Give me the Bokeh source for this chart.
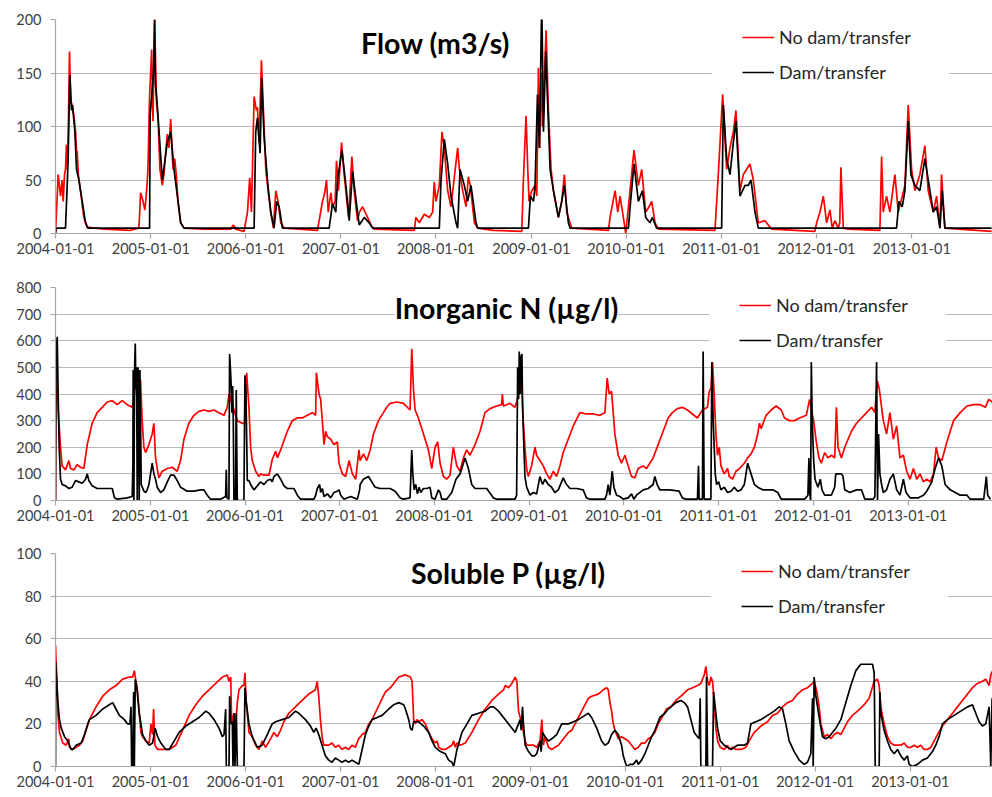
import numpy as np
from bokeh.plotting import figure
from bokeh.layouts import column
from bokeh.models import (Range1d, FixedTicker, SingleIntervalTicker, DatetimeTickFormatter,
                          Label, BoxAnnotation)
from bokeh.embed import file_html
from bokeh.resources import INLINE

# ---------------- data (time as decimal year, value) ----------------
SERIES_NAMES = ["No dam/transfer", "Dam/transfer"]
TICK_YEARS = [2004, 2005, 2006, 2007, 2008, 2009, 2010, 2011, 2012, 2013]
TITLES = ["Flow (m3/s)", "Inorganic N (\u00b5g/l)", "Soluble P (\u00b5g/l)"]

FLOW_NODAM = [
    (2004.000, 0), (2004.028, 55), (2004.053, 35), (2004.070, 50), (2004.081, 30), (2004.095, 55),
    (2004.105, 60), (2004.115, 83), (2004.123, 60), (2004.135, 100), (2004.147, 170), (2004.160, 125),
    (2004.175, 120), (2004.193, 110), (2004.211, 95), (2004.222, 75), (2004.228, 77), (2004.240, 55),
    (2004.270, 35), (2004.298, 15), (2004.333, 6), (2004.509, 4), (2004.789, 3), (2004.877, 5),
    (2004.895, 38), (2004.915, 32), (2004.940, 22), (2004.958, 40), (2004.972, 60), (2004.989, 128),
    (2005.011, 172), (2005.025, 105), (2005.042, 200), (2005.063, 120), (2005.077, 110), (2005.098, 60),
    (2005.123, 45), (2005.140, 55), (2005.158, 75), (2005.175, 93), (2005.193, 80), (2005.211, 107),
    (2005.235, 60), (2005.253, 70), (2005.270, 55), (2005.288, 30), (2005.316, 10), (2005.351, 5),
    (2005.561, 4), (2005.842, 4), (2005.870, 8), (2005.895, 4), (2005.982, 2), (2006.018, 20),
    (2006.042, 52), (2006.060, 20), (2006.088, 128), (2006.112, 115), (2006.123, 118), (2006.140, 85),
    (2006.165, 162), (2006.186, 115), (2006.211, 60), (2006.235, 40), (2006.263, 20), (2006.291, 5),
    (2006.316, 40), (2006.340, 30), (2006.368, 10), (2006.404, 5), (2006.754, 3), (2006.807, 30),
    (2006.830, 38), (2006.849, 50), (2006.867, 20), (2006.895, 38), (2006.912, 25), (2006.940, 30),
    (2006.954, 68), (2006.975, 40), (2007.007, 85), (2007.035, 55), (2007.081, 15), (2007.116, 72),
    (2007.140, 40), (2007.175, 12), (2007.195, 20), (2007.228, 25), (2007.281, 15), (2007.316, 8),
    (2007.351, 4), (2007.772, 3), (2007.789, 15), (2007.825, 10), (2007.877, 18), (2007.930, 15),
    (2007.965, 20), (2007.982, 48), (2008.000, 30), (2008.035, 45), (2008.063, 95), (2008.088, 80),
    (2008.123, 40), (2008.158, 25), (2008.228, 80), (2008.246, 60), (2008.281, 40), (2008.316, 25),
    (2008.340, 53), (2008.361, 45), (2008.404, 10), (2008.439, 5), (2008.600, 3), (2008.902, 2),
    (2008.919, 50), (2008.947, 110), (2008.965, 60), (2008.979, 30), (2009.007, 40), (2009.042, 45),
    (2009.060, 35), (2009.077, 155), (2009.088, 80), (2009.105, 150), (2009.119, 100), (2009.158, 190),
    (2009.182, 115), (2009.210, 60), (2009.235, 40), (2009.287, 15), (2009.322, 30), (2009.350, 55),
    (2009.375, 20), (2009.427, 5), (2009.813, 3), (2009.830, 15), (2009.883, 40), (2009.911, 20),
    (2009.935, 35), (2009.970, 15), (2009.995, 0), (2010.040, 40), (2010.082, 78), (2010.128, 45),
    (2010.163, 60), (2010.205, 20), (2010.240, 25), (2010.268, 30), (2010.303, 10), (2010.338, 4),
    (2010.933, 3), (2010.968, 55), (2011.014, 130), (2011.056, 60), (2011.091, 80), (2011.126, 95),
    (2011.154, 115), (2011.196, 40), (2011.231, 55), (2011.266, 60), (2011.301, 65), (2011.336, 50),
    (2011.389, 10), (2011.459, 12), (2011.529, 4), (2011.984, 2), (2012.002, 10), (2012.037, 20),
    (2012.072, 35), (2012.107, 10), (2012.142, 22), (2012.166, 5), (2012.194, 12), (2012.229, 5),
    (2012.245, 10), (2012.257, 62), (2012.282, 5), (2012.334, 4), (2012.667, 3), (2012.685, 72),
    (2012.702, 20), (2012.737, 35), (2012.772, 20), (2012.825, 55), (2012.860, 20), (2012.930, 45),
    (2012.965, 120), (2013.000, 60), (2013.035, 40), (2013.087, 55), (2013.140, 82), (2013.175, 40),
    (2013.228, 20), (2013.263, 35), (2013.298, 5), (2013.315, 55), (2013.350, 5), (2013.841, 2),
]

FLOW_DAM = [
    (2004.000, 0), (2004.007, 5), (2004.105, 5), (2004.123, 45), (2004.133, 70), (2004.151, 148),
    (2004.168, 115), (2004.179, 120), (2004.204, 95), (2004.221, 60), (2004.246, 50), (2004.281, 30),
    (2004.316, 10), (2004.340, 5), (2004.989, 5), (2004.995, 110), (2005.030, 150), (2005.042, 200),
    (2005.050, 140), (2005.070, 120), (2005.123, 50), (2005.175, 85), (2005.211, 95), (2005.246, 60),
    (2005.316, 10), (2005.351, 5), (2006.088, 5), (2006.105, 95), (2006.123, 108), (2006.151, 75),
    (2006.168, 145), (2006.193, 90), (2006.228, 50), (2006.263, 20), (2006.298, 5), (2006.326, 30),
    (2006.351, 25), (2006.386, 5), (2006.877, 5), (2006.912, 28), (2006.947, 20), (2006.965, 50),
    (2007.011, 78), (2007.053, 45), (2007.088, 12), (2007.123, 58), (2007.175, 20), (2007.193, 8),
    (2007.246, 15), (2007.298, 10), (2007.333, 5), (2008.035, 5), (2008.053, 50), (2008.088, 88),
    (2008.123, 65), (2008.158, 35), (2008.211, 10), (2008.228, 5), (2008.253, 60), (2008.298, 45),
    (2008.333, 30), (2008.368, 45), (2008.421, 10), (2008.439, 5), (2008.972, 5), (2008.993, 35),
    (2009.025, 30), (2009.042, 45), (2009.067, 130), (2009.088, 80), (2009.112, 220), (2009.130, 95),
    (2009.154, 170), (2009.200, 60), (2009.235, 40), (2009.287, 15), (2009.322, 30), (2009.350, 45),
    (2009.392, 10), (2009.410, 5), (2010.023, 5), (2010.046, 30), (2010.082, 65), (2010.128, 30),
    (2010.170, 40), (2010.205, 15), (2010.250, 10), (2010.275, 15), (2010.320, 5), (2011.003, 5),
    (2011.021, 120), (2011.056, 70), (2011.091, 55), (2011.126, 85), (2011.154, 105), (2011.196, 35),
    (2011.249, 45), (2011.284, 45), (2011.312, 50), (2011.354, 20), (2011.389, 5), (2012.842, 5),
    (2012.867, 30), (2012.902, 25), (2012.930, 40), (2012.965, 105), (2012.993, 55), (2013.035, 45),
    (2013.087, 40), (2013.140, 70), (2013.193, 40), (2013.228, 20), (2013.263, 25), (2013.298, 5),
    (2013.322, 40), (2013.350, 5), (2013.841, 5),
]

N_NODAM = [
    (2004.000, 0), (2004.003, 490), (2004.035, 300), (2004.053, 200), (2004.070, 130), (2004.106, 115),
    (2004.141, 150), (2004.158, 120), (2004.194, 115), (2004.229, 135), (2004.264, 125), (2004.299, 120),
    (2004.335, 210), (2004.387, 290), (2004.440, 330), (2004.493, 350), (2004.546, 370), (2004.599, 375),
    (2004.651, 360), (2004.704, 375), (2004.757, 360), (2004.810, 350), (2004.827, 380), (2004.845, 440),
    (2004.870, 460), (2004.898, 450), (2004.915, 300), (2004.933, 200), (2004.951, 180), (2004.986, 210),
    (2005.021, 250), (2005.039, 290), (2005.056, 160), (2005.074, 120), (2005.092, 85), (2005.127, 110),
    (2005.180, 120), (2005.232, 125), (2005.285, 110), (2005.320, 150), (2005.356, 230), (2005.408, 290),
    (2005.461, 320), (2005.514, 335), (2005.567, 340), (2005.620, 335), (2005.673, 340), (2005.725, 330),
    (2005.778, 320), (2005.813, 350), (2005.831, 400), (2005.849, 380), (2005.919, 300), (2005.972, 290),
    (2005.996, 290), (2006.018, 480), (2006.042, 350), (2006.060, 200), (2006.077, 150), (2006.113, 110),
    (2006.148, 90), (2006.165, 100), (2006.201, 95), (2006.254, 95), (2006.289, 155), (2006.324, 185),
    (2006.342, 160), (2006.377, 190), (2006.447, 260), (2006.500, 300), (2006.553, 310), (2006.606, 310),
    (2006.658, 320), (2006.711, 330), (2006.746, 320), (2006.754, 480), (2006.782, 400), (2006.799, 380),
    (2006.817, 300), (2006.835, 210), (2006.852, 260), (2006.870, 240), (2006.905, 230), (2006.940, 210),
    (2006.975, 220), (2006.993, 140), (2007.028, 100), (2007.063, 90), (2007.099, 150), (2007.134, 100),
    (2007.169, 80), (2007.204, 190), (2007.216, 150), (2007.251, 175), (2007.286, 150), (2007.322, 190),
    (2007.357, 250), (2007.409, 300), (2007.462, 330), (2007.497, 350), (2007.533, 365), (2007.603, 370),
    (2007.673, 365), (2007.743, 340), (2007.761, 570), (2007.779, 420), (2007.796, 340), (2007.831, 310),
    (2007.866, 270), (2007.902, 230), (2007.937, 190), (2007.972, 120), (2008.007, 200), (2008.035, 220),
    (2008.060, 140), (2008.095, 90), (2008.130, 80), (2008.165, 95), (2008.200, 200), (2008.236, 130),
    (2008.271, 110), (2008.306, 160), (2008.341, 190), (2008.376, 170), (2008.429, 210), (2008.482, 260),
    (2008.534, 330), (2008.587, 345), (2008.657, 355), (2008.710, 360), (2008.717, 400), (2008.728, 355),
    (2008.798, 365), (2008.851, 350), (2008.868, 370), (2008.903, 420), (2008.921, 440), (2008.938, 300),
    (2008.956, 200), (2008.974, 120), (2008.991, 90), (2009.026, 130), (2009.062, 200), (2009.079, 170),
    (2009.114, 150), (2009.149, 130), (2009.185, 100), (2009.220, 80), (2009.255, 110), (2009.290, 90),
    (2009.325, 130), (2009.360, 180), (2009.413, 230), (2009.466, 280), (2009.536, 330), (2009.606, 325),
    (2009.677, 325), (2009.747, 320), (2009.800, 330), (2009.824, 460), (2009.845, 400), (2009.870, 410),
    (2009.888, 330), (2009.905, 250), (2009.940, 170), (2009.975, 140), (2010.011, 170), (2010.046, 130),
    (2010.081, 90), (2010.116, 85), (2010.151, 120), (2010.204, 130), (2010.239, 120), (2010.274, 140),
    (2010.309, 160), (2010.362, 210), (2010.415, 260), (2010.468, 310), (2010.512, 330), (2010.565, 345),
    (2010.618, 350), (2010.671, 340), (2010.724, 325), (2010.777, 310), (2010.830, 340), (2010.883, 350),
    (2010.901, 410), (2010.919, 420), (2010.936, 520), (2010.954, 400), (2010.972, 250), (2010.989, 170),
    (2011.007, 200), (2011.025, 130), (2011.060, 100), (2011.095, 120), (2011.113, 90), (2011.148, 80),
    (2011.184, 110), (2011.219, 120), (2011.272, 140), (2011.307, 160), (2011.343, 175), (2011.378, 200),
    (2011.413, 250), (2011.431, 290), (2011.449, 270), (2011.502, 320), (2011.555, 340), (2011.608, 355),
    (2011.661, 340), (2011.696, 310), (2011.749, 300), (2011.802, 300), (2011.855, 310), (2011.926, 320),
    (2011.961, 380), (2011.979, 340), (2012.004, 300), (2012.032, 220), (2012.060, 160), (2012.085, 140),
    (2012.120, 180), (2012.155, 160), (2012.191, 170), (2012.226, 160), (2012.244, 350), (2012.261, 200),
    (2012.297, 160), (2012.332, 200), (2012.367, 230), (2012.403, 260), (2012.456, 290), (2012.509, 310),
    (2012.562, 330), (2012.615, 350), (2012.650, 330), (2012.675, 450), (2012.696, 420), (2012.739, 300),
    (2012.774, 250), (2012.809, 330), (2012.845, 230), (2012.880, 280), (2012.915, 160), (2012.951, 170),
    (2012.986, 110), (2013.021, 80), (2013.057, 120), (2013.092, 80), (2013.127, 100), (2013.163, 70),
    (2013.198, 80), (2013.233, 70), (2013.269, 100), (2013.297, 200), (2013.322, 160), (2013.357, 150),
    (2013.410, 220), (2013.445, 260), (2013.481, 300), (2013.551, 330), (2013.622, 355), (2013.693, 360),
    (2013.763, 360), (2013.816, 350), (2013.852, 380), (2013.890, 370),
]

N_DAM = [
    (2004.000, 0), (2004.007, 560), (2004.018, 615), (2004.028, 400), (2004.039, 200), (2004.053, 80),
    (2004.070, 60), (2004.106, 55), (2004.141, 45), (2004.176, 50), (2004.211, 75), (2004.246, 70),
    (2004.282, 65), (2004.317, 80), (2004.335, 100), (2004.352, 75), (2004.387, 55), (2004.440, 45),
    (2004.511, 45), (2004.599, 45), (2004.623, 10), (2004.651, 5), (2004.757, 10), (2004.810, 15),
    (2004.817, 135), (2004.820, 490), (2004.828, 0), (2004.835, 490), (2004.842, 590), (2004.849, 420),
    (2004.856, 500), (2004.863, 0), (2004.870, 500), (2004.877, 480), (2004.884, 0), (2004.891, 490),
    (2004.898, 300), (2004.905, 60), (2004.933, 35), (2004.951, 30), (2004.968, 40), (2004.986, 60),
    (2005.021, 140), (2005.039, 100), (2005.056, 80), (2005.074, 50), (2005.109, 30), (2005.144, 40),
    (2005.180, 70), (2005.215, 95), (2005.250, 95), (2005.285, 75), (2005.320, 50), (2005.391, 35),
    (2005.461, 35), (2005.532, 40), (2005.567, 40), (2005.602, 20), (2005.637, 5), (2005.743, 5),
    (2005.796, 15), (2005.803, 115), (2005.810, 10), (2005.831, 5), (2005.838, 550), (2005.849, 480),
    (2005.856, 420), (2005.863, 330), (2005.870, 430), (2005.877, 300), (2005.884, 0), (2005.901, 0),
    (2005.908, 415), (2005.919, 0), (2005.989, 0), (2006.000, 470), (2006.011, 400), (2006.025, 75),
    (2006.042, 75), (2006.060, 60), (2006.095, 40), (2006.130, 55), (2006.165, 70), (2006.201, 60),
    (2006.236, 75), (2006.271, 80), (2006.289, 70), (2006.306, 90), (2006.342, 100), (2006.377, 80),
    (2006.412, 55), (2006.447, 45), (2006.518, 45), (2006.553, 20), (2006.588, 5), (2006.729, 5),
    (2006.747, 20), (2006.764, 45), (2006.789, 60), (2006.799, 30), (2006.817, 45), (2006.835, 15),
    (2006.870, 25), (2006.905, 10), (2006.940, 30), (2006.975, 35), (2006.993, 40), (2007.011, 20),
    (2007.046, 5), (2007.116, 15), (2007.151, 10), (2007.187, 5), (2007.211, 40), (2007.216, 60),
    (2007.251, 80), (2007.304, 90), (2007.339, 70), (2007.374, 50), (2007.427, 45), (2007.533, 45),
    (2007.585, 35), (2007.638, 10), (2007.673, 5), (2007.743, 10), (2007.761, 190), (2007.772, 100),
    (2007.786, 40), (2007.803, 60), (2007.821, 25), (2007.838, 50), (2007.856, 30), (2007.884, 45),
    (2007.919, 45), (2007.954, 50), (2007.972, 10), (2008.007, 5), (2008.042, 40), (2008.060, 30),
    (2008.077, 5), (2008.130, 5), (2008.183, 30), (2008.228, 80), (2008.271, 100), (2008.323, 160),
    (2008.359, 120), (2008.394, 60), (2008.429, 45), (2008.482, 45), (2008.552, 45), (2008.622, 10),
    (2008.657, 5), (2008.851, 5), (2008.868, 20), (2008.879, 500), (2008.889, 380), (2008.896, 560),
    (2008.907, 400), (2008.914, 540), (2008.924, 550), (2008.931, 350), (2008.946, 190), (2008.956, 90),
    (2008.974, 50), (2009.009, 20), (2009.044, 30), (2009.079, 25), (2009.114, 90), (2009.142, 60),
    (2009.167, 80), (2009.202, 60), (2009.237, 50), (2009.272, 30), (2009.308, 40), (2009.360, 85),
    (2009.395, 60), (2009.431, 45), (2009.501, 45), (2009.571, 40), (2009.606, 10), (2009.641, 5),
    (2009.800, 5), (2009.817, 20), (2009.835, 60), (2009.852, 20), (2009.877, 110), (2009.895, 50),
    (2009.923, 20), (2009.958, 15), (2009.993, 5), (2010.046, 10), (2010.081, 25), (2010.105, 5),
    (2010.134, 20), (2010.204, 40), (2010.257, 45), (2010.309, 60), (2010.327, 90), (2010.352, 60),
    (2010.380, 40), (2010.432, 40), (2010.485, 40), (2010.583, 35), (2010.618, 10), (2010.654, 5),
    (2010.777, 5), (2010.788, 130), (2010.795, 5), (2010.830, 5), (2010.837, 560), (2010.848, 5),
    (2010.919, 5), (2010.929, 520), (2010.943, 300), (2010.954, 200), (2010.965, 100), (2010.979, 60),
    (2011.000, 70), (2011.025, 40), (2011.060, 50), (2011.095, 30), (2011.131, 35), (2011.166, 50),
    (2011.201, 35), (2011.237, 40), (2011.272, 60), (2011.307, 140), (2011.343, 100), (2011.378, 60),
    (2011.413, 50), (2011.466, 40), (2011.572, 40), (2011.625, 30), (2011.661, 5), (2011.908, 5),
    (2011.943, 20), (2011.954, 160), (2011.961, 30), (2011.972, 0), (2011.979, 520), (2011.989, 300),
    (2012.004, 150), (2012.018, 80), (2012.049, 50), (2012.074, 80), (2012.092, 40), (2012.120, 20),
    (2012.191, 20), (2012.226, 50), (2012.237, 100), (2012.297, 100), (2012.314, 90), (2012.332, 40),
    (2012.385, 30), (2012.456, 40), (2012.509, 40), (2012.544, 5), (2012.633, 5), (2012.650, 15),
    (2012.668, 520), (2012.678, 0), (2012.689, 250), (2012.703, 100), (2012.721, 60), (2012.739, 30),
    (2012.774, 40), (2012.809, 80), (2012.845, 100), (2012.880, 40), (2012.915, 20), (2012.951, 80),
    (2012.979, 30), (2013.021, 10), (2013.110, 10), (2013.163, 20), (2013.198, 35), (2013.251, 70),
    (2013.286, 120), (2013.322, 160), (2013.357, 130), (2013.392, 60), (2013.445, 40), (2013.498, 30),
    (2013.551, 20), (2013.622, 20), (2013.657, 5), (2013.799, 5), (2013.827, 90), (2013.841, 20),
    (2013.869, 5),
]

P_NODAM = [
    (2004.000, 57), (2004.014, 40), (2004.025, 25), (2004.042, 16), (2004.077, 11), (2004.112, 10),
    (2004.140, 13), (2004.147, 9), (2004.182, 8), (2004.217, 9), (2004.252, 10), (2004.287, 12),
    (2004.322, 17), (2004.357, 22), (2004.427, 28), (2004.497, 33), (2004.567, 36), (2004.637, 38),
    (2004.707, 41), (2004.777, 42), (2004.812, 42), (2004.830, 45), (2004.847, 40), (2004.865, 35),
    (2004.882, 25), (2004.900, 16), (2004.917, 14), (2004.952, 12), (2004.987, 11), (2005.005, 20),
    (2005.022, 15), (2005.033, 27), (2005.047, 10), (2005.075, 8), (2005.127, 8), (2005.197, 8),
    (2005.232, 9), (2005.267, 10), (2005.337, 17), (2005.407, 24), (2005.477, 29), (2005.547, 33),
    (2005.617, 36), (2005.687, 39), (2005.757, 42), (2005.810, 43), (2005.827, 40), (2005.845, 42),
    (2005.855, 20), (2005.880, 25), (2005.897, 20), (2005.915, 30), (2005.932, 36), (2005.967, 38),
    (2005.985, 38), (2005.995, 44), (2006.009, 30), (2006.020, 25), (2006.037, 16), (2006.072, 14),
    (2006.107, 10), (2006.142, 8), (2006.177, 12), (2006.212, 9), (2006.265, 13), (2006.300, 16),
    (2006.335, 14), (2006.370, 17), (2006.405, 21), (2006.457, 25), (2006.527, 28), (2006.597, 31),
    (2006.667, 34), (2006.702, 35), (2006.737, 36), (2006.755, 40), (2006.772, 33), (2006.790, 22),
    (2006.807, 14), (2006.825, 10), (2006.877, 10), (2006.912, 11), (2006.947, 9), (2006.982, 10),
    (2007.017, 8), (2007.052, 9), (2007.087, 8), (2007.122, 10), (2007.157, 9), (2007.192, 13),
    (2007.212, 14), (2007.229, 15), (2007.264, 16), (2007.299, 20), (2007.334, 22), (2007.387, 27),
    (2007.440, 32), (2007.475, 35), (2007.527, 37), (2007.580, 40), (2007.615, 42), (2007.685, 43),
    (2007.737, 42), (2007.755, 40), (2007.772, 22), (2007.790, 20), (2007.807, 22), (2007.825, 21),
    (2007.860, 22), (2007.895, 20), (2007.930, 16), (2007.965, 13), (2008.000, 11), (2008.018, 12),
    (2008.035, 9), (2008.070, 8), (2008.105, 8), (2008.140, 9), (2008.175, 10), (2008.193, 12),
    (2008.210, 9), (2008.228, 11), (2008.263, 10), (2008.315, 11), (2008.385, 16), (2008.455, 22),
    (2008.525, 27), (2008.595, 31), (2008.665, 34), (2008.718, 36), (2008.736, 38), (2008.771, 37),
    (2008.806, 39), (2008.841, 42), (2008.858, 40), (2008.876, 26), (2008.911, 20), (2008.946, 12),
    (2008.963, 10), (2008.998, 10), (2009.033, 10), (2009.068, 9), (2009.103, 12), (2009.121, 22),
    (2009.138, 10), (2009.156, 14), (2009.191, 9), (2009.226, 8), (2009.261, 9), (2009.296, 10),
    (2009.331, 12), (2009.366, 14), (2009.401, 16), (2009.436, 17), (2009.471, 20), (2009.506, 23),
    (2009.541, 26), (2009.576, 29), (2009.611, 32), (2009.646, 33), (2009.716, 34), (2009.769, 36),
    (2009.804, 37), (2009.821, 36), (2009.839, 30), (2009.856, 26), (2009.874, 20), (2009.891, 17),
    (2009.909, 15), (2009.926, 13), (2009.961, 14), (2009.996, 13), (2010.032, 12), (2010.067, 10),
    (2010.102, 8), (2010.137, 9), (2010.172, 11), (2010.207, 11), (2010.242, 13), (2010.277, 14),
    (2010.312, 16), (2010.347, 20), (2010.399, 24), (2010.434, 27), (2010.481, 28), (2010.533, 31),
    (2010.586, 33), (2010.656, 36), (2010.709, 37), (2010.761, 38), (2010.796, 39), (2010.832, 43),
    (2010.849, 47), (2010.867, 40), (2010.884, 38), (2010.902, 42), (2010.919, 40), (2010.937, 30),
    (2010.954, 18), (2010.972, 12), (2011.000, 9), (2011.042, 8), (2011.077, 10), (2011.095, 8),
    (2011.130, 9), (2011.165, 8), (2011.218, 8), (2011.270, 9), (2011.305, 12), (2011.358, 16),
    (2011.428, 19), (2011.498, 21), (2011.551, 24), (2011.604, 25), (2011.656, 28), (2011.709, 30),
    (2011.761, 31), (2011.814, 34), (2011.867, 36), (2011.919, 37), (2011.972, 39), (2011.989, 40),
    (2012.007, 37), (2012.018, 35), (2012.042, 28), (2012.060, 20), (2012.095, 14), (2012.130, 15),
    (2012.165, 13), (2012.200, 15), (2012.235, 16), (2012.270, 15), (2012.305, 18), (2012.340, 21),
    (2012.393, 24), (2012.446, 26), (2012.516, 29), (2012.568, 32), (2012.621, 40), (2012.656, 41),
    (2012.674, 38), (2012.691, 28), (2012.726, 20), (2012.761, 14), (2012.796, 11), (2012.832, 10),
    (2012.902, 10), (2012.937, 11), (2012.972, 9), (2013.007, 9), (2013.042, 10), (2013.077, 9),
    (2013.112, 10), (2013.147, 8), (2013.182, 8), (2013.218, 9), (2013.253, 12), (2013.288, 15),
    (2013.340, 19), (2013.393, 22), (2013.446, 25), (2013.498, 28), (2013.551, 31), (2013.604, 34),
    (2013.656, 37), (2013.709, 39), (2013.761, 40), (2013.796, 41), (2013.832, 38), (2013.849, 43),
    (2013.870, 45),
]

P_DAM = [
    (2004.000, 0), (2004.0035, 49), (2004.025, 30), (2004.042, 22), (2004.060, 18), (2004.095, 14),
    (2004.130, 12), (2004.165, 8), (2004.182, 8), (2004.217, 10), (2004.270, 11), (2004.305, 15),
    (2004.340, 20), (2004.357, 22), (2004.427, 24), (2004.497, 27), (2004.567, 29), (2004.602, 30),
    (2004.637, 27), (2004.672, 24), (2004.725, 22), (2004.760, 20), (2004.784, 20), (2004.795, 28),
    (2004.802, 0), (2004.812, 0), (2004.823, 35), (2004.830, 0), (2004.840, 41), (2004.854, 38),
    (2004.882, 25), (2004.917, 15), (2004.952, 12), (2004.987, 10), (2005.022, 11), (2005.050, 18),
    (2005.075, 14), (2005.110, 11), (2005.162, 8), (2005.197, 8), (2005.250, 12), (2005.302, 16),
    (2005.372, 19), (2005.442, 21), (2005.512, 23), (2005.582, 26), (2005.617, 25), (2005.670, 22),
    (2005.722, 18), (2005.757, 14), (2005.775, 15), (2005.792, 27), (2005.799, 0), (2005.827, 0),
    (2005.834, 33), (2005.845, 20), (2005.862, 21), (2005.869, 0), (2005.880, 25), (2005.890, 0),
    (2005.904, 25), (2005.915, 0), (2005.985, 0), (2005.995, 37), (2006.009, 30), (2006.037, 20),
    (2006.072, 14), (2006.125, 9), (2006.177, 10), (2006.230, 15), (2006.282, 20), (2006.317, 21),
    (2006.387, 22), (2006.457, 23), (2006.527, 26), (2006.562, 25), (2006.632, 22), (2006.685, 19),
    (2006.720, 16), (2006.744, 18), (2006.772, 15), (2006.807, 10), (2006.842, 5), (2006.877, 3),
    (2006.912, 2), (2006.947, 4), (2006.982, 3), (2007.017, 2), (2007.052, 3), (2007.087, 2),
    (2007.122, 3), (2007.159, 2), (2007.194, 1), (2007.229, 8), (2007.264, 15), (2007.299, 19),
    (2007.334, 22), (2007.387, 23), (2007.440, 24), (2007.510, 27), (2007.562, 29), (2007.615, 30),
    (2007.667, 29), (2007.685, 27), (2007.720, 22), (2007.737, 18), (2007.755, 17), (2007.772, 21),
    (2007.825, 21), (2007.877, 19), (2007.930, 16), (2007.965, 12), (2008.000, 9), (2008.053, 7),
    (2008.105, 6), (2008.140, 3), (2008.175, 2), (2008.193, 0), (2008.228, 8), (2008.280, 16),
    (2008.333, 20), (2008.385, 24), (2008.455, 25), (2008.525, 26), (2008.578, 28), (2008.613, 28),
    (2008.665, 26), (2008.718, 23), (2008.771, 20), (2008.823, 17), (2008.841, 16), (2008.858, 18),
    (2008.893, 22), (2008.904, 17), (2008.918, 28), (2008.928, 20), (2008.946, 10), (2008.981, 7),
    (2009.016, 5), (2009.044, 5), (2009.068, 6), (2009.103, 12), (2009.114, 7), (2009.128, 16),
    (2009.156, 14), (2009.191, 12), (2009.226, 13), (2009.278, 15), (2009.331, 20), (2009.401, 20),
    (2009.454, 21), (2009.506, 22), (2009.576, 24), (2009.611, 25), (2009.646, 23), (2009.699, 18),
    (2009.751, 12), (2009.786, 10), (2009.821, 11), (2009.856, 15), (2009.891, 17), (2009.926, 15),
    (2009.961, 10), (2009.979, 5), (2010.014, 0), (2010.049, 1), (2010.084, 1), (2010.119, 3),
    (2010.137, 1), (2010.172, 3), (2010.207, 6), (2010.242, 10), (2010.277, 14), (2010.312, 17),
    (2010.364, 23), (2010.417, 25), (2010.452, 27), (2010.481, 28), (2010.533, 30), (2010.586, 31),
    (2010.621, 30), (2010.656, 28), (2010.691, 22), (2010.726, 16), (2010.761, 14), (2010.779, 13),
    (2010.789, 32), (2010.796, 0), (2010.849, 0), (2010.856, 42), (2010.867, 0), (2010.919, 0),
    (2010.930, 35), (2010.954, 25), (2010.972, 18), (2011.000, 12), (2011.042, 10), (2011.077, 9),
    (2011.119, 8), (2011.147, 9), (2011.182, 10), (2011.253, 10), (2011.288, 11), (2011.323, 20),
    (2011.375, 21), (2011.428, 22), (2011.498, 24), (2011.568, 26), (2011.621, 28), (2011.656, 27),
    (2011.691, 20), (2011.726, 12), (2011.779, 7), (2011.832, 3), (2011.884, 1), (2011.919, 2),
    (2011.954, 6), (2011.972, 32), (2011.979, 0), (2011.989, 42), (2012.007, 33), (2012.025, 28),
    (2012.053, 20), (2012.077, 14), (2012.112, 13), (2012.147, 14), (2012.182, 16), (2012.218, 18),
    (2012.270, 22), (2012.323, 30), (2012.375, 38), (2012.428, 45), (2012.481, 48), (2012.551, 48),
    (2012.604, 48), (2012.621, 44), (2012.632, 0), (2012.674, 0), (2012.681, 35), (2012.691, 25),
    (2012.726, 17), (2012.761, 12), (2012.796, 8), (2012.832, 6), (2012.867, 8), (2012.902, 5),
    (2012.937, 3), (2012.972, 5), (2012.989, 1), (2013.025, 0), (2013.077, 1), (2013.130, 3),
    (2013.182, 4), (2013.235, 7), (2013.270, 10), (2013.305, 14), (2013.340, 20), (2013.393, 22),
    (2013.463, 24), (2013.533, 26), (2013.604, 28), (2013.656, 29), (2013.691, 25), (2013.726, 21),
    (2013.761, 19), (2013.796, 20), (2013.832, 28), (2013.849, 0), (2013.863, 32),
]

# ---------------- styling ----------------
FONT = "Lato"
RED = "#ff0000"
BLACK = "#000000"
GRID = "#b9b9b9"
AXIS = "#a6a6a6"
TICK_TXT = "#404040"
LEG_TXT = "#262626"

BASE = np.datetime64("2004-01-01T00:00:00")
UNIX = np.datetime64("1970-01-01T00:00:00")


def to_dt(years):
    y = np.asarray(years, dtype=float)
    ms = np.round((y - 2004.0) * 365.25 * 86400000.0).astype("int64")
    return BASE + ms.astype("timedelta64[ms]")


def ms_of(dt64):
    return float((np.datetime64(dt64, "ms") - UNIX) / np.timedelta64(1, "ms"))


def unzip(pairs):
    return [a for a, _ in pairs], [b for _, b in pairs]


TICKS_MS = [ms_of(np.datetime64(f"{yr}-01-01")) for yr in TICK_YEARS]


def make_panel(red, black, ymax, ystep, title, left, top, frame_h, bottom, span_days,
               title_xy, box_y):
    height = top + frame_h + bottom
    x0 = ms_of(BASE)
    x1 = x0 + span_days * 86400000.0
    p = figure(width=992, height=height, x_axis_type="datetime",
               x_range=Range1d(x0, x1), y_range=Range1d(0, ymax),
               min_border_left=left, min_border_right=0, min_border_top=top,
               min_border_bottom=bottom, toolbar_location=None, output_backend="svg")
    p.outline_line_color = None
    p.background_fill_color = "white"

    # gridlines
    p.xgrid.grid_line_color = None
    p.ygrid.grid_line_color = GRID
    p.ygrid.grid_line_width = 1.2

    # axes
    p.yaxis.ticker = SingleIntervalTicker(interval=ystep, num_minor_ticks=0)
    p.xaxis.ticker = FixedTicker(ticks=TICKS_MS)
    fmt = "%Y-%m-%d"
    p.xaxis.formatter = DatetimeTickFormatter(years=fmt, months=fmt, days=fmt, hours=fmt,
                                              hourmin=fmt, minutes=fmt)
    for ax in (p.xaxis[0], p.yaxis[0]):
        ax.axis_line_color = AXIS
        ax.axis_line_width = 1.2
        ax.major_tick_line_color = AXIS
        ax.major_tick_line_width = 1.2
        ax.major_tick_in = 0
        ax.major_tick_out = 5
        ax.minor_tick_line_color = None
        ax.major_label_text_font = FONT
        ax.major_label_text_font_size = "14.5px"
        ax.major_label_text_color = TICK_TXT
    p.yaxis.major_label_standoff = 9
    p.xaxis.major_label_standoff = 4

    rx, ry = unzip(red)
    bx, by = unzip(black)
    p.line(to_dt(rx), ry, line_color=RED, line_width=1.7, legend_label=SERIES_NAMES[0])
    p.line(to_dt(bx), by, line_color=BLACK, line_width=1.7, legend_label=SERIES_NAMES[1])

    # white area behind the legend (breaks the gridlines like the original)
    p.add_layout(BoxAnnotation(left=ms_of(to_dt([2010.90])[0]), right=ms_of(to_dt([2011.40])[0]),
                               bottom=box_y[0], top=box_y[1], fill_color="white", fill_alpha=1.0,
                               line_color=None))

    lg = p.legend[0]
    lg.location = (739 - left, frame_h - 64)
    lg.padding = 1
    lg.spacing = 13
    lg.margin = 0
    lg.label_height = 22
    lg.glyph_height = 22
    lg.glyph_width = 32
    lg.label_standoff = 5
    lg.label_width = 170
    lg.border_line_color = None
    lg.background_fill_color = "white"
    lg.background_fill_alpha = 1.0
    lg.label_text_font = FONT
    lg.label_text_font_size = "18px"
    lg.label_text_color = LEG_TXT

    p.add_layout(Label(x=title_xy[0], y=title_xy[1], x_units="screen", y_units="screen",
                       text=title, text_font=FONT, text_font_style="bold", text_font_size="28.5px",
                       text_color="#000000", text_align="center", text_baseline="middle",
                       background_fill_color="white", background_fill_alpha=1.0))
    return p


p1 = make_panel(FLOW_NODAM, FLOW_DAM, 200, 50, TITLES[0], left=52, top=19, frame_h=214,
                bottom=29, span_days=3598, title_xy=(380, 191), box_y=(140, 195))
p2 = make_panel(N_NODAM, N_DAM, 800, 100, TITLES[1], left=55, top=25, frame_h=213,
                bottom=28, span_days=3613, title_xy=(451, 193), box_y=(560, 780))
p3 = make_panel(P_NODAM, P_DAM, 100, 20, TITLES[2], left=53, top=25, frame_h=213,
                bottom=31, span_days=3604, title_xy=(453, 194), box_y=(72, 97))

layout = column(p1, p2, p3, spacing=0)
open("out.html", "w").write(file_html(layout, INLINE))
